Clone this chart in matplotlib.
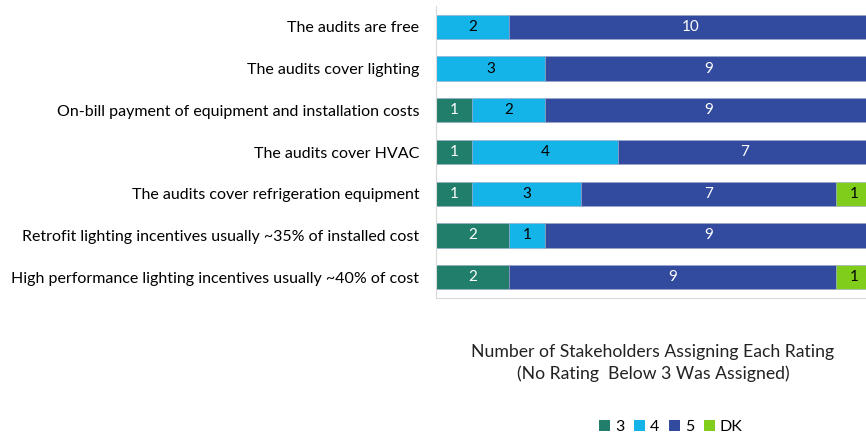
"""Stacked horizontal bar chart of stakeholder ratings"""
import numpy as np
import matplotlib
matplotlib.use("Agg")
import matplotlib.pyplot as plt
from matplotlib.patches import Patch

plt.rcParams['font.family'] = ['Lato', 'DejaVu Sans']

# Данные
categories = [
    "The audits are free",
    "The audits cover lighting",
    "On-bill payment of equipment and installation costs",
    "The audits cover HVAC",
    "The audits cover refrigeration equipment",
    "Retrofit lighting incentives usually ~35% of installed cost",
    "High performance lighting incentives usually ~40% of cost",
]
rating_3 = [0, 0, 1, 1, 1, 2, 2]
rating_4 = [2, 3, 2, 4, 3, 1, 0]
rating_5 = [10, 9, 9, 7, 7, 9, 9]
rating_dk = [0, 0, 0, 0, 1, 0, 1]

series = [("3", rating_3, '#217E6A', 'white'),
          ("4", rating_4, '#14B4E8', 'black'),
          ("5", rating_5, '#334B9F', 'white'),
          ("DK", rating_dk, '#80CE1B', 'black')]

fig = plt.figure(figsize=(8.66, 4.38), dpi=100)
ax = fig.add_axes([436 / 866, 1 - 298 / 438, 430 / 866, 292 / 438])

y = np.arange(len(categories))
left = np.zeros(len(categories))
for name, vals, color, txt in series:
    vals = np.array(vals, dtype=float)
    ax.barh(y, vals, left=left, height=0.58, color=color,
            edgecolor='#9aa6c8', linewidth=0.4, label=name)
    for i, v in enumerate(vals):
        if v > 0:
            ax.text(left[i] + v / 2, y[i], f"{int(v)}", ha='center', va='center',
                    color=txt, fontsize=11)
    left += vals

ax.set_xlim(0, 11.83)
ax.set_ylim(6.5, -0.5)
ax.set_yticks(y)
ax.set_yticklabels(categories, fontsize=11.5)
ax.tick_params(axis='y', length=0, pad=12)
ax.set_xticks([])
for s in ['top', 'right']:
    ax.spines[s].set_visible(False)
ax.spines['left'].set_color('#d9d9d9')
ax.spines['bottom'].set_color('#d9d9d9')

fig.text(653 / 866, 1 - 352 / 438, "Number of Stakeholders Assigning Each Rating",
         ha='center', va='center', fontsize=12.7, color='#222222')
fig.text(653 / 866, 1 - 374 / 438, "(No Rating  Below 3 Was Assigned)",
         ha='center', va='center', fontsize=12.7, color='#222222')

handles = [Patch(facecolor=c, label=n) for n, _, c, _ in series]
fig.legend(handles=handles, loc='center', bbox_to_anchor=(671 / 866, 1 - 427 / 438),
           ncol=4, frameon=False, fontsize=11.5, handlelength=0.7, handleheight=0.7,
           handletextpad=0.3, columnspacing=0.6)

plt.savefig("out.png", dpi=100)
